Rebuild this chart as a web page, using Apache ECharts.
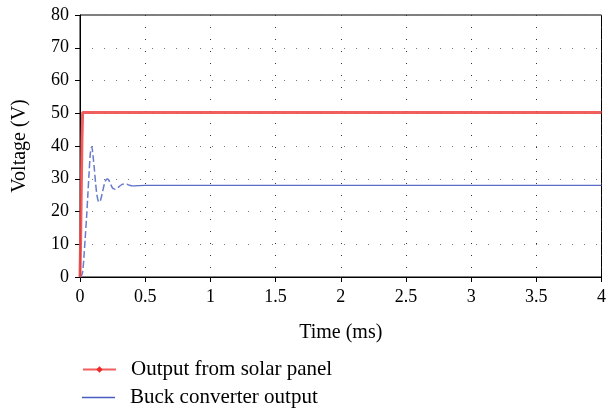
<!DOCTYPE html>
<html><head><meta charset="utf-8">
<script src="https://cdn.jsdelivr.net/npm/echarts@6/dist/echarts.min.js"></script>
<style>html,body{margin:0;padding:0;background:#fff}#c{width:609px;height:413px}</style>
</head><body><div id="c"></div>
<script>
const seriesNames = ['Output from solar panel', 'Buck converter output'];
const xTicks = [0, 0.5, 1, 1.5, 2, 2.5, 3, 3.5, 4];
const yTicks = [0, 10, 20, 30, 40, 50, 60, 70, 80];
const solarT = [0, 0.005, 0.01, 0.015, 0.02, 4];
const solarV = [0, 12, 27, 42, 50.2, 50.2];
const buckTransT = [0, 0.01, 0.02, 0.03, 0.04, 0.05, 0.06, 0.07, 0.08, 0.09, 0.10, 0.11, 0.12, 0.13, 0.14, 0.15, 0.16, 0.17, 0.18, 0.19, 0.20, 0.21, 0.22, 0.23, 0.24, 0.25, 0.26, 0.27, 0.28, 0.29, 0.30, 0.32, 0.34, 0.36, 0.38, 0.40];
const buckTransV = [0, 0.3, 1.5, 6, 12, 18, 25, 32, 38, 39.8, 37, 33, 28.5, 25, 23.2, 22.8, 23.8, 25.5, 27.3, 28.8, 29.7, 29.9, 29.6, 28.8, 27.9, 27.2, 26.9, 26.8, 26.9, 27.2, 27.6, 28.2, 28.4, 28.3, 28.0, 27.8];
const buckSteadyT = [0.40, 0.42, 0.45, 0.5, 4];
const buckSteadyV = [27.8, 27.8, 27.9, 28, 28];

const zip = (a, b) => a.map((v, i) => [v, b[i]]);
const font = 'Liberation Serif';
const legendText = { fontFamily: font, fontSize: 21, color: '#000', padding: [0, 0, 0, 10] };
const chart = echarts.init(document.getElementById('c'));
chart.setOption({
  animation: false,
  grid: { left: 80, right: 4, top: 15, bottom: 136, show: true, borderColor: '#000', borderWidth: 1 },
  xAxis: {
    type: 'value', min: xTicks[0], max: xTicks[xTicks.length - 1], interval: 0.5,
    name: 'Time (ms)', nameLocation: 'middle', nameGap: 46,
    nameTextStyle: { fontFamily: font, fontSize: 20, color: '#000' },
    axisLine: { lineStyle: { color: '#000', width: 1 } },
    axisTick: { show: true, inside: false, length: 5, lineStyle: { color: '#000' } },
    axisLabel: { fontFamily: font, fontSize: 18, color: '#000', margin: 11 },
    splitLine: { show: true, lineStyle: { color: '#333', type: [1, 11], width: 1 } }
  },
  yAxis: {
    type: 'value', min: yTicks[0], max: yTicks[yTicks.length - 1], interval: 10,
    name: 'Voltage (V)', nameLocation: 'middle', nameGap: 50,
    nameTextStyle: { fontFamily: font, fontSize: 20, color: '#000' },
    axisLine: { show: true, lineStyle: { color: '#000', width: 1 } },
    axisTick: { show: true, inside: false, length: 5, lineStyle: { color: '#000' } },
    axisLabel: { fontFamily: font, fontSize: 18, color: '#000', margin: 11 },
    splitLine: { show: true, lineStyle: { color: '#777', type: [1, 11], width: 1 } }
  },
  legend: [
    { left: 82, top: 359, padding: 0, itemWidth: 33, itemHeight: 8, textStyle: legendText, data: [seriesNames[0]] },
    { left: 82, top: 387, padding: 0, itemWidth: 33, itemHeight: 1.5, icon: 'rect', textStyle: legendText, data: [seriesNames[1]] }
  ],
  series: [
    {
      name: seriesNames[0], type: 'line', data: zip(solarT, solarV),
      showSymbol: false, symbol: 'diamond', symbolSize: 6,
      itemStyle: { color: '#ee2a2a' },
      lineStyle: { color: '#f04c4c', width: 3, opacity: 0.9 }, z: 3
    },
    {
      name: seriesNames[1], type: 'line', data: zip(buckSteadyT, buckSteadyV),
      showSymbol: false, symbol: 'none',
      itemStyle: { color: '#4a5cc0' },
      lineStyle: { color: '#5a6cc4', width: 1.3 }, z: 2
    },
    {
      name: seriesNames[1], type: 'line', data: zip(buckTransT, buckTransV),
      showSymbol: false, symbol: 'none', smooth: 0.3,
      itemStyle: { color: '#4a5cc0' },
      lineStyle: { color: '#6a7ccc', width: 1.5, type: [7, 3] }, z: 2
    }
  ]
});
</script></body></html>
